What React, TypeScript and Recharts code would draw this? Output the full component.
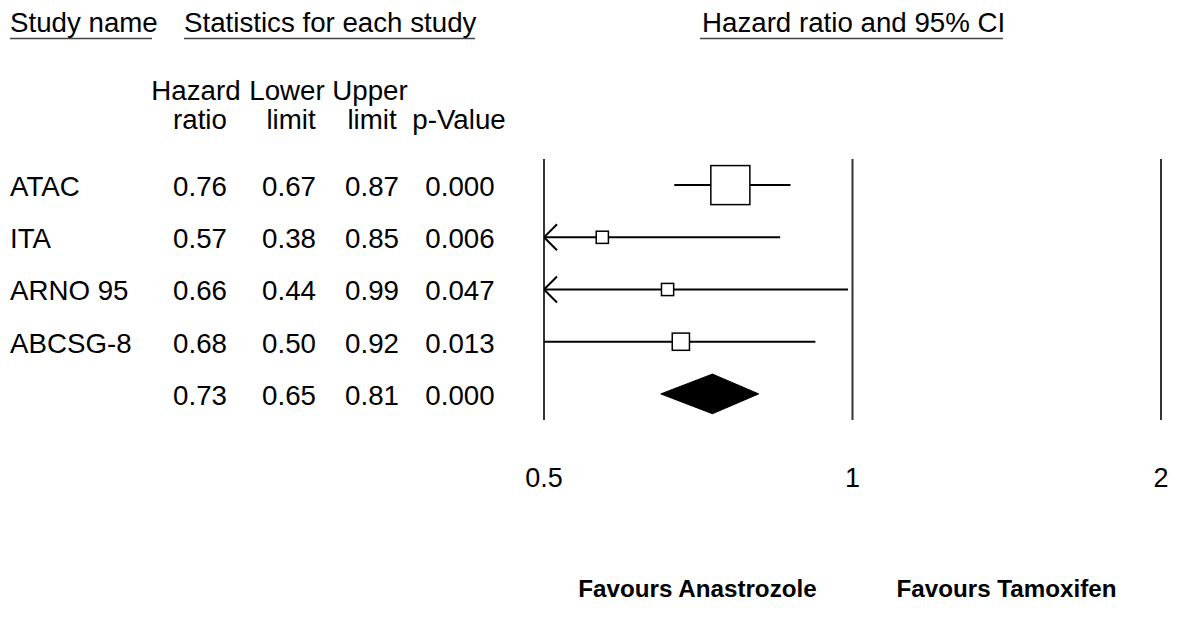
import React from "react";
import { ComposedChart, Line, Area, Scatter, XAxis, YAxis, ReferenceLine } from "recharts";

const studyNames = ["ATAC", "ITA", "ARNO 95", "ABCSG-8"];
const hazardRatios = [0.76, 0.57, 0.66, 0.68];
const lowerLimits = [0.67, 0.38, 0.44, 0.5];
const upperLimits = [0.87, 0.85, 0.99, 0.92];
const pValues = ["0.000", "0.006", "0.047", "0.013"];
// relative study weights (box area)
const studyWeights = [72, 7, 7, 14];

const summaryRatio = 0.73;
const summaryLower = 0.65;
const summaryUpper = 0.81;
const summaryP = "0.000";

const axisTicks = [0.5, 1, 2];

const FONT = "Arial, 'Liberation Sans', sans-serif";
const X_MIN = axisTicks[0];
const X_MAX = axisTicks[axisTicks.length - 1];
const SUMMARY_ROW = studyNames.length;
const DIAMOND_HALF = 0.38;

const ciData = studyNames.map((_, i) => [
  { x: Math.max(lowerLimits[i], X_MIN), y: i },
  { x: Math.min(upperLimits[i], X_MAX), y: i },
]);
const boxData = studyNames.map((name, i) => ({ name, x: hazardRatios[i], y: i, weight: studyWeights[i] }));
const arrowData = lowerLimits
  .map((low, i) => (low < X_MIN ? { x: X_MIN, y: i } : null))
  .filter((d) => d !== null);
const diamondData = [
  { x: summaryLower, range: [SUMMARY_ROW, SUMMARY_ROW] },
  { x: summaryRatio, range: [SUMMARY_ROW - DIAMOND_HALF, SUMMARY_ROW + DIAMOND_HALF] },
  { x: summaryUpper, range: [SUMMARY_ROW, SUMMARY_ROW] },
];

const BoxShape = (props: any) => {
  const { cx, cy, payload } = props;
  const s = Math.sqrt(payload.weight) * 4.6;
  return <rect x={cx - s / 2} y={cy - s / 2} width={s} height={s} fill="#fff" stroke="#000" strokeWidth={1.5} />;
};

const ArrowShape = (props: any) => {
  const { cx, cy } = props;
  return (
    <polyline
      points={`${cx + 13},${cy - 13} ${cx},${cy} ${cx + 13},${cy + 13}`}
      fill="none"
      stroke="#000"
      strokeWidth={2}
    />
  );
};

const colCenters = [200, 289, 372, 460];
const rowBaseline = (i: number) => 196 + 52.2 * i;

function TableText() {
  const t = { fontFamily: FONT, fontSize: 27.7, fill: "#000" };
  return (
    <svg width={1200} height={620} style={{ position: "absolute", left: 0, top: 0, pointerEvents: "none" }}>
      <g {...t}>
        <text x={10} y={32}>Study name</text>
        <text x={184} y={32}>Statistics for each study</text>
        <text x={702} y={32}>Hazard ratio and 95% CI</text>
      </g>
      <g stroke="#444" strokeWidth={1.5}>
        <line x1={10} x2={152} y1={38.5} y2={38.5} />
        <line x1={184} x2={475} y1={38.5} y2={38.5} />
        <line x1={700} x2={1003} y1={38.5} y2={38.5} />
      </g>
      <g {...t} textAnchor="middle">
        <text x={196} y={100}>Hazard</text>
        <text x={287} y={100}>Lower</text>
        <text x={370} y={100}>Upper</text>
        <text x={200} y={129}>ratio</text>
        <text x={291} y={129}>limit</text>
        <text x={372} y={129}>limit</text>
        <text x={459} y={129}>p-Value</text>
      </g>
      <g {...t}>
        {studyNames.map((name, i) => (
          <text key={name} x={10} y={rowBaseline(i)}>{name}</text>
        ))}
      </g>
      <g {...t} textAnchor="middle">
        {studyNames.map((name, i) => (
          <g key={name}>
            <text x={colCenters[0]} y={rowBaseline(i)}>{hazardRatios[i].toFixed(2)}</text>
            <text x={colCenters[1]} y={rowBaseline(i)}>{lowerLimits[i].toFixed(2)}</text>
            <text x={colCenters[2]} y={rowBaseline(i)}>{upperLimits[i].toFixed(2)}</text>
            <text x={colCenters[3]} y={rowBaseline(i)}>{pValues[i]}</text>
          </g>
        ))}
        <text x={colCenters[0]} y={rowBaseline(SUMMARY_ROW)}>{summaryRatio.toFixed(2)}</text>
        <text x={colCenters[1]} y={rowBaseline(SUMMARY_ROW)}>{summaryLower.toFixed(2)}</text>
        <text x={colCenters[2]} y={rowBaseline(SUMMARY_ROW)}>{summaryUpper.toFixed(2)}</text>
        <text x={colCenters[3]} y={rowBaseline(SUMMARY_ROW)}>{summaryP}</text>
      </g>
      <g fontFamily={FONT} fontSize={24.2} fontWeight="bold" fill="#000" textAnchor="middle">
        <text x={697.5} y={597}>Favours Anastrozole</text>
        <text x={1006.5} y={597}>Favours Tamoxifen</text>
      </g>
    </svg>
  );
}

export default function App() {
  return (
    <div style={{ position: "relative", width: 1200, height: 620, background: "#fff" }}>
      <style>{"body{margin:0}"}</style>
      <ComposedChart width={1200} height={620} margin={{ top: 159, right: 39, bottom: 140, left: 544 }}>
        <XAxis
          dataKey="x"
          type="number"
          scale="log"
          domain={[X_MIN, X_MAX]}
          ticks={axisTicks}
          allowDataOverflow
          axisLine={false}
          tickLine={false}
          tickSize={0}
          tickMargin={48}
          height={60}
          interval={0}
          tick={{ fill: "#000", fontSize: 27, fontFamily: FONT }}
        />
        <YAxis dataKey="y" type="number" domain={[-0.5, SUMMARY_ROW + 0.5]} reversed hide allowDataOverflow />
        {axisTicks.map((t) => (
          <ReferenceLine key={t} x={t} stroke="#333" strokeWidth={2} />
        ))}
        {ciData.map((d, i) => (
          <Line
            key={studyNames[i]}
            data={d}
            dataKey="y"
            stroke="#000"
            strokeWidth={2}
            dot={false}
            activeDot={false}
            isAnimationActive={false}
          />
        ))}
        <Area
          data={diamondData}
          dataKey="range"
          type="linear"
          stroke="#000"
          strokeWidth={1}
          fill="#000"
          fillOpacity={1}
          isAnimationActive={false}
        />
        <Scatter data={arrowData} dataKey="y" shape={ArrowShape} isAnimationActive={false} />
        <Scatter data={boxData} dataKey="y" shape={BoxShape} isAnimationActive={false} />
      </ComposedChart>
      <TableText />
    </div>
  );
}
